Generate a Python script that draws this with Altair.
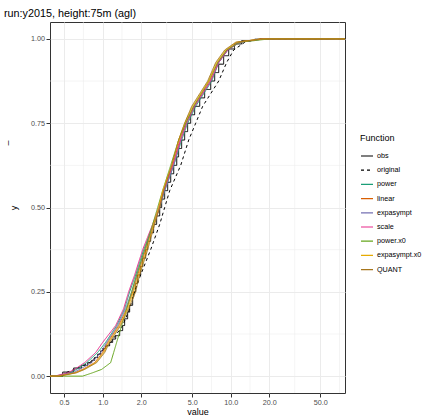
import altair as alt
import pandas as pd

FONT = "Liberation Sans"

FUNCS = ["obs", "original", "power", "linear", "expasympt", "scale",
         "power.x0", "expasympt.x0", "QUANT"]
COLORS = ["#000000", "#000000", "#1B9E77", "#D95F02", "#7570B3", "#E7298A",
          "#66A61E", "#E6AB02", "#A6761D"]
DASHES = [[1, 0], [3, 3], [1, 0], [1, 0], [1, 0], [1, 0], [1, 0], [1, 0], [1, 0]]

# x-range of the panel (ggplot pads the ECDF with -Inf / Inf)
X_MIN, X_MAX = 0.388, 78.1

# observed ECDF (step function)
OBS_X = [0.487, 0.593, 0.685, 0.763, 0.820, 0.866, 0.914, 0.965, 1.0, 1.055,
         1.134, 1.197, 1.264, 1.358, 1.433, 1.485, 1.567, 1.625, 1.715, 1.746,
         1.81, 1.876, 1.98, 2.054, 2.167, 2.247, 2.371, 2.50, 2.64, 2.79,
         2.89, 3.05, 3.22, 3.40, 3.59, 3.79, 3.92, 4.14, 4.37, 4.61,
         4.87, 5.23, 5.73, 6.26, 6.98, 7.50, 8.06, 8.81, 9.65, 10.7,
         12.19, 15.4, 61.3]
OBS_Y = [0.012, 0.024, 0.032, 0.04, 0.047, 0.055, 0.065, 0.075, 0.082, 0.09,
         0.10, 0.11, 0.12, 0.135, 0.15, 0.17, 0.19, 0.21, 0.235, 0.25,
         0.275, 0.30, 0.325, 0.35, 0.375, 0.40, 0.425, 0.45, 0.475, 0.50,
         0.525, 0.55, 0.575, 0.60, 0.625, 0.65, 0.675, 0.70, 0.725, 0.75,
         0.775, 0.80, 0.825, 0.85, 0.875, 0.90, 0.925, 0.95, 0.97, 0.985,
         0.995, 0.999, 1.0]

# cumulative probability levels at which the other curves were read
Y_GRID = [0.0, 0.01, 0.02, 0.04, 0.07, 0.10, 0.15, 0.20, 0.25, 0.30, 0.375,
          0.45, 0.50, 0.55, 0.625, 0.70, 0.75, 0.80, 0.875, 0.93, 0.967, 0.99, 1.0]

X_ORIGINAL = [0.487, 0.514, 0.604, 0.791, 0.965, 1.155, 1.433, 1.625, 1.778, 1.98,
              2.371, 2.79, 3.05, 3.34, 4.07, 4.70, 5.33, 6.04, 8.06, 9.30, 10.55,
              12.9, 16.9]
X_POWER = [0.429, 0.552, 0.626, 0.75, 0.914, 1.055, 1.286, 1.485, 1.625, 1.81,
           2.09, 2.50, 2.79, 3.05, 3.59, 4.14, 4.61, 5.33, 7.11, 8.06, 9.48,
           11.75, 18.4]
X_LINEAR = [0.445, 0.604, 0.698, 0.866, 1.0, 1.094, 1.334, 1.54, 1.715, 1.876,
            2.167, 2.50, 2.79, 2.997, 3.52, 4.0, 4.45, 5.14, 6.85, 7.91, 9.30,
            11.34, 17.47]
X_EXPASYMPT = [0.437, 0.583, 0.661, 0.820, 0.965, 1.075, 1.31, 1.512, 1.686, 1.844,
               2.13, 2.50, 2.79, 3.05, 3.59, 4.07, 4.53, 5.23, 6.98, 8.06, 9.48,
               11.55, 18.1]
X_SCALE = [0.422, 0.533, 0.604, 0.723, 0.882, 1.0, 1.264, 1.459, 1.596, 1.778,
           2.054, 2.458, 2.738, 2.997, 3.52, 4.07, 4.53, 5.23, 6.98, 8.06, 9.48,
           11.75, 18.4]
X_POWER_X0 = [0.698, 0.835, 0.982, 1.155, 1.219, 1.286, 1.407, 1.54, 1.686, 1.844,
              2.13, 2.458, 2.69, 2.94, 3.40, 3.92, 4.45, 5.14, 6.73, 7.91, 9.30,
              11.75, 20.2]
X_EXPASYMPT_X0 = [0.445, 0.615, 0.711, 0.882, 1.018, 1.114, 1.358, 1.567, 1.746, 1.91,
                  2.207, 2.50, 2.738, 2.94, 3.46, 3.92, 4.37, 5.05, 6.73, 7.77, 9.14,
                  11.1, 17.47]
X_QUANT = [0.461, 0.626, 0.723, 0.898, 1.037, 1.134, 1.382, 1.596, 1.81, 1.945,
           2.247, 2.548, 2.79, 2.997, 3.46, 3.92, 4.37, 4.96, 6.61, 7.64, 8.98,
           10.94, 17.47]

X_BREAKS = [0.5, 1, 2, 5, 10, 20, 50]
X_MINOR = [0.7071, 1.4142, 3.1623, 7.0711, 14.142, 31.623, 70.711]
Y_BREAKS = [0.0, 0.25, 0.5, 0.75, 1.0]
Y_MINOR = [0.125, 0.375, 0.625, 0.875]

# ---- build tables
obs_rows = [{"Function": "obs", "value": X_MIN, "y": 0.0}]
obs_rows += [{"Function": "obs", "value": xv, "y": yv} for xv, yv in zip(OBS_X, OBS_Y)]
obs_rows.append({"Function": "obs", "value": X_MAX, "y": 1.0})
obs_df = pd.DataFrame(obs_rows)

series = [("original", X_ORIGINAL), ("power", X_POWER), ("linear", X_LINEAR),
          ("expasympt", X_EXPASYMPT), ("scale", X_SCALE), ("power.x0", X_POWER_X0),
          ("expasympt.x0", X_EXPASYMPT_X0), ("QUANT", X_QUANT)]
rows = []
for name, xs in series:
    rows.append({"Function": name, "value": X_MIN, "y": 0.0})
    rows += [{"Function": name, "value": xv, "y": yv} for xv, yv in zip(xs, Y_GRID)]
    rows.append({"Function": name, "value": X_MAX, "y": 1.0})
fit_df = pd.DataFrame(rows)

xscale = alt.Scale(type="log", domain=[X_MIN, X_MAX], nice=False, zero=False)
yscale = alt.Scale(domain=[-0.05, 1.05], nice=False, zero=False)
color = alt.Color("Function:N", scale=alt.Scale(domain=FUNCS, range=COLORS),
                  legend=alt.Legend(title="Function", symbolType="stroke",
                                    orient="none", legendX=310, legendY=112))
dash = alt.StrokeDash("Function:N", scale=alt.Scale(domain=FUNCS, range=DASHES))

xenc = alt.X("value:Q", scale=xscale,
             axis=alt.Axis(values=X_BREAKS, format=".1f", title="value"))
yenc = alt.Y("y:Q", scale=yscale,
             axis=alt.Axis(values=Y_BREAKS, format=".2f", title="y"))

minor_x = alt.Chart(pd.DataFrame({"m": X_MINOR})).mark_rule(
    color="#EBEBEB", strokeWidth=0.55).encode(x=alt.X("m:Q", scale=xscale))
minor_y = alt.Chart(pd.DataFrame({"m": Y_MINOR})).mark_rule(
    color="#EBEBEB", strokeWidth=0.55).encode(y=alt.Y("m:Q", scale=yscale))

obs_line = alt.Chart(obs_df).mark_line(interpolate="step-after", strokeWidth=1).encode(
    x=xenc, y=yenc, color=color, strokeDash=dash)
fit_lines = alt.Chart(fit_df).mark_line(strokeWidth=1).encode(
    x=xenc, y=yenc, color=color, strokeDash=dash, order=alt.Order("value:Q"))

side = alt.Chart(pd.DataFrame({"t": ["–"]})).mark_text(
    angle=270, fontSize=9, font=FONT, color="black").encode(
    x=alt.value(-42), y=alt.value(121), text="t:N")

chart = alt.layer(minor_x, minor_y, obs_line, fit_lines, side).properties(
    width=295, height=371,
    title=alt.TitleParams("run:y2015, height:75m (agl)", anchor="start",
                          fontSize=10.8, fontWeight="normal", font=FONT,
                          color="black", offset=3),
    autosize=alt.AutoSizeParams(type="none"),
    padding={"left": 50, "top": 22, "right": 77, "bottom": 23},
).configure_view(stroke="#333333", strokeWidth=1).configure_axis(
    labelFont=FONT, titleFont=FONT, domain=False, grid=True,
    gridColor="#EBEBEB", gridWidth=1, tickColor="#333333", tickWidth=1,
    tickSize=4, labelColor="#4D4D4D", labelFontSize=7.2, labelPadding=1.5,
    titleFontSize=9, titleFontWeight="normal", titleColor="black"
).configure_axisX(titlePadding=2).configure_axisY(titlePadding=12).configure_legend(
    titleFont=FONT, labelFont=FONT, titleFontSize=9, titleFontWeight="normal",
    titleColor="black", labelFontSize=7.2, labelColor="black", symbolSize=144,
    symbolStrokeWidth=1.2, rowPadding=3.2, titlePadding=6, labelOffset=3,
    symbolOffset=0
)

chart.save("out.html", embed_options={"renderer": "svg", "actions": False})
